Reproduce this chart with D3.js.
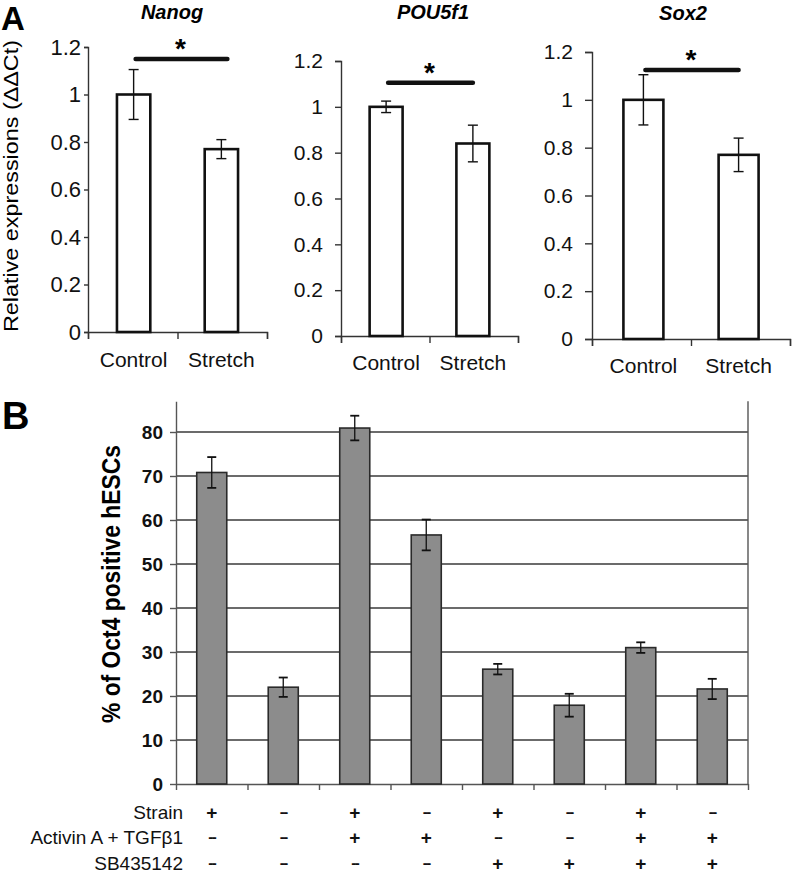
<!DOCTYPE html>
<html>
<head>
<meta charset="utf-8">
<script src="https://cdn.jsdelivr.net/npm/d3@7/dist/d3.min.js"></script>
<style>
  html, body { margin: 0; padding: 0; background: #fff; }
  svg { display: block; font-family: "Liberation Sans", Arial, sans-serif; }
</style>
</head>
<body>
<svg id="chart" width="792" height="878"></svg>
<script>
// ---------------- DATA ----------------
const genes = ["Nanog", "POU5f1", "Sox2"];
const groupsA = ["Control", "Stretch"];
const nanogMean = [1.00, 0.77];
const nanogErr = [0.105, 0.04];
const pou5f1Mean = [1.00, 0.84];
const pou5f1Err = [0.025, 0.08];
const sox2Mean = [1.00, 0.77];
const sox2Err = [0.105, 0.07];
const sigLevel = [1.15, 1.105, 1.125];
const yTicksA = [0, 0.2, 0.4, 0.6, 0.8, 1, 1.2];
const yLabelA = "Relative expressions (ΔΔCt)";

const conditionsB = ["c1", "c2", "c3", "c4", "c5", "c6", "c7", "c8"];
const oct4Mean = [70.8, 22.0, 80.9, 56.6, 26.1, 17.9, 31.0, 21.6];
const oct4Err = [3.5, 2.2, 2.8, 3.5, 1.2, 2.6, 1.2, 2.3];
const yTicksB = [0, 10, 20, 30, 40, 50, 60, 70, 80];
const yLabelB = "% of Oct4 positive hESCs";
const rowLabels = ["Strain", "Activin A + TGFβ1", "SB435142"];
const strainRow = ["+", "--", "+", "--", "+", "--", "+", "--"];
const activinRow = ["--", "--", "+", "+", "--", "--", "+", "+"];
const sbRow = ["--", "--", "--", "--", "+", "+", "+", "+"];

const meansA = [nanogMean, pou5f1Mean, sox2Mean];
const errsA = [nanogErr, pou5f1Err, sox2Err];

// ---------------- LAYOUT ----------------
const svg = d3.select("#chart");
const FONT = '"Liberation Sans", Arial, sans-serif';

const layoutA = [
  { x0: 88, x1: 267, y0: 332, yTop: 47, tickLen: 4, tickPad: 3, titleX: 172, titleY: 19, labelY: 367, fs: 22 },
  { x0: 341, x1: 518, y0: 336, yTop: 61, tickLen: 6, tickPad: 12, titleX: 433, titleY: 19, labelY: 370, fs: 21 },
  { x0: 592, x1: 790, y0: 339, yTop: 52, tickLen: 7, tickPad: 12, titleX: 683, titleY: 20, labelY: 373, fs: 21 }
];

// Panel letters
svg.append("text").attr("x", 1).attr("y", 30).attr("font-size", 33).attr("font-weight", "bold")
  .attr("font-family", FONT).text("A");
svg.append("text").attr("x", 2).attr("y", 429).attr("font-size", 38).attr("font-weight", "bold")
  .attr("font-family", FONT).text("B");

// Y label A
svg.append("text")
  .attr("transform", "translate(18,186) rotate(-90)")
  .attr("text-anchor", "middle")
  .attr("font-size", 21)
  .attr("textLength", 292).attr("lengthAdjust", "spacingAndGlyphs")
  .text(yLabelA);

// ---------------- PANEL A ----------------
genes.forEach((gene, gi) => {
  const L = layoutA[gi];
  const g = svg.append("g");
  const y = d3.scaleLinear().domain([0, 1.2]).range([L.y0, L.yTop]);
  const pad = gi === 2 ? 0.58 : 0.62;
  const x = d3.scaleBand().domain(groupsA).range([L.x0, L.x1]).paddingInner(pad).paddingOuter(0.33);
  const xl = d3.scaleLinear().domain([0, 2]).range([L.x0, L.x1]);

  // y axis
  const ya = g.append("g").attr("transform", `translate(${L.x0},0)`)
    .call(d3.axisLeft(y).tickValues(yTicksA).tickSize(L.tickLen).tickPadding(L.tickPad)
      .tickFormat(d => d3.format("~g")(d)));
  ya.select(".domain").attr("stroke", "#333").attr("stroke-width", 1.4);
  ya.selectAll(".tick line").attr("stroke", "#333").attr("stroke-width", 1.4);
  ya.selectAll(".tick text").attr("font-size", L.fs).attr("font-family", FONT).attr("fill", "#111");

  // x axis
  const xa = g.append("g").attr("transform", `translate(0,${L.y0})`)
    .call(d3.axisBottom(xl).tickValues([0, 1, 2]).tickSize(7).tickFormat(""));
  xa.select(".domain").attr("stroke", "#333").attr("stroke-width", 1.4);
  xa.selectAll(".tick line").attr("stroke", "#333").attr("stroke-width", 1.4);

  // bars
  g.selectAll("rect.bar").data(groupsA).join("rect")
    .attr("x", d => x(d)).attr("width", x.bandwidth())
    .attr("y", (d, i) => y(meansA[gi][i])).attr("height", (d, i) => L.y0 - y(meansA[gi][i]))
    .attr("fill", "#fff").attr("stroke", "#111").attr("stroke-width", 2.6);

  // error bars
  groupsA.forEach((d, i) => {
    const cx = x(d) + x.bandwidth() / 2;
    const hi = y(meansA[gi][i] + errsA[gi][i]);
    const lo = y(meansA[gi][i] - errsA[gi][i]);
    g.append("line").attr("x1", cx).attr("x2", cx).attr("y1", hi).attr("y2", lo)
      .attr("stroke", "#111").attr("stroke-width", 1.4);
    [hi, lo].forEach(yy => g.append("line").attr("x1", cx - 5).attr("x2", cx + 5)
      .attr("y1", yy).attr("y2", yy).attr("stroke", "#111").attr("stroke-width", 1.4));
  });

  // x labels
  g.selectAll("text.xl").data(groupsA).join("text")
    .attr("x", d => x(d) + x.bandwidth() / 2).attr("y", L.labelY)
    .attr("text-anchor", "middle").attr("font-size", 21).attr("font-family", FONT)
    .attr("fill", "#111").text(d => d);

  // significance line
  const c0 = x(groupsA[0]) + x.bandwidth() / 2;
  const c1 = x(groupsA[1]) + x.bandwidth() / 2 + (gi === 0 ? 6 : 0);
  const sy = y(sigLevel[gi]);
  g.append("line").attr("x1", c0 + 2).attr("x2", c1).attr("y1", sy).attr("y2", sy)
    .attr("stroke", "#111").attr("stroke-width", 4.5).attr("stroke-linecap", "round");
  g.append("text").attr("x", (c0 + c1) / 2).attr("y", sy - 1)
    .attr("text-anchor", "middle").attr("font-size", 28).attr("font-weight", "bold")
    .attr("font-family", FONT).text("*");

  // title
  g.append("text").attr("x", L.titleX).attr("y", L.titleY)
    .attr("text-anchor", "middle").attr("font-size", 20).attr("font-weight", "bold")
    .attr("font-style", "italic").attr("font-family", FONT).text(gene);
});

// ---------------- PANEL B ----------------
const bx0 = 176, bx1 = 748, by0 = 784;
const yB = d3.scaleLinear().domain([0, 87]).range([by0, by0 - 87 * 4.4]);
const xB = d3.scaleBand().domain(conditionsB).range([bx0, bx1]).paddingInner(0.58).paddingOuter(0.29);
const xBl = d3.scaleLinear().domain([0, 8]).range([bx0, bx1]);
const gB = svg.append("g");

// gridlines
gB.selectAll("line.grid").data(yTicksB.filter(d => d > 0)).join("line")
  .attr("x1", bx0).attr("x2", bx1).attr("y1", d => yB(d)).attr("y2", d => yB(d))
  .attr("stroke", "#3a3a3a").attr("stroke-width", 1.6);

// right border
gB.append("line").attr("x1", bx1).attr("x2", bx1).attr("y1", yB(87)).attr("y2", by0)
  .attr("stroke", "#555").attr("stroke-width", 1.4);

// y axis
const yaB = gB.append("g").attr("transform", `translate(${bx0},0)`)
  .call(d3.axisLeft(yB).tickValues(yTicksB).tickSize(6).tickPadding(7).tickSizeOuter(0));
yaB.select(".domain").attr("stroke", "#555").attr("stroke-width", 1.4);
yaB.selectAll(".tick line").attr("stroke", "#555").attr("stroke-width", 1.4);
yaB.selectAll(".tick text").attr("font-size", 19).attr("font-weight", "bold")
  .attr("font-family", FONT).attr("fill", "#111");

// x axis
const xaB = gB.append("g").attr("transform", `translate(0,${by0})`)
  .call(d3.axisBottom(xBl).tickValues(d3.range(0, 9)).tickSize(6).tickFormat("").tickSizeOuter(0));
xaB.select(".domain").attr("stroke", "#555").attr("stroke-width", 1.6);
xaB.selectAll(".tick line").attr("stroke", "#555").attr("stroke-width", 1.4);

// bars
gB.selectAll("rect.barB").data(conditionsB).join("rect")
  .attr("x", d => xB(d)).attr("width", xB.bandwidth())
  .attr("y", (d, i) => yB(oct4Mean[i])).attr("height", (d, i) => by0 - yB(oct4Mean[i]))
  .attr("fill", "#8c8c8c").attr("stroke", "#2a2a2a").attr("stroke-width", 1.6);

// error bars
conditionsB.forEach((d, i) => {
  const cx = xB(d) + xB.bandwidth() / 2;
  const hi = yB(oct4Mean[i] + oct4Err[i]);
  const lo = yB(oct4Mean[i] - oct4Err[i]);
  gB.append("line").attr("x1", cx).attr("x2", cx).attr("y1", hi).attr("y2", lo)
    .attr("stroke", "#111").attr("stroke-width", 1.3);
  [hi, lo].forEach(yy => gB.append("line").attr("x1", cx - 4.5).attr("x2", cx + 4.5)
    .attr("y1", yy).attr("y2", yy).attr("stroke", "#111").attr("stroke-width", 1.8));
});

// y label B
svg.append("text")
  .attr("transform", "translate(120,584) rotate(-90)")
  .attr("text-anchor", "middle")
  .attr("font-size", 25).attr("font-weight", "bold")
  .attr("textLength", 278).attr("lengthAdjust", "spacingAndGlyphs")
  .text(yLabelB);

// condition table
const rowsY = [812, 837, 863];
const rowsData = [strainRow, activinRow, sbRow];
rowLabels.forEach((lab, ri) => {
  svg.append("text").attr("x", 183).attr("y", rowsY[ri]).attr("dy", "0.35em")
    .attr("text-anchor", "end").attr("font-size", 19).attr("font-family", FONT)
    .attr("fill", "#111").text(lab);
  svg.selectAll(null).data(rowsData[ri]).join("text")
    .attr("x", (d, i) => xB(conditionsB[i]) + xB.bandwidth() / 2)
    .attr("y", rowsY[ri]).attr("dy", d => d === "+" ? "0.36em" : "0.33em")
    .attr("text-anchor", "middle").attr("font-weight", "bold").attr("font-family", FONT)
    .attr("font-size", d => d === "+" ? 19 : 15)
    .attr("letter-spacing", d => d === "+" ? 0 : -1.5)
    .attr("fill", "#111").text(d => d);
});
</script>
</body>
</html>
